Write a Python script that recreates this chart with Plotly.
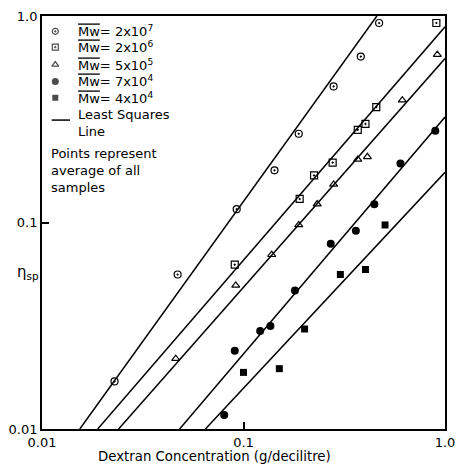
import plotly.graph_objects as go

# Weight-average molecular weights of the dextran fractions
mw_labels = ["2x10<sup>7</sup>", "2x10<sup>6</sup>", "5x10<sup>5</sup>",
             "7x10<sup>4</sup>", "4x10<sup>4</sup>"]

# Concentration (g/decilitre) and specific viscosity for each fraction
conc_2e7 = [0.0229, 0.0471, 0.0925, 0.1425, 0.188, 0.280, 0.382, 0.471]
eta_2e7 = [0.0170, 0.0560, 0.116, 0.179, 0.269, 0.456, 0.636, 0.925]

conc_2e6 = [0.0905, 0.190, 0.224, 0.277, 0.369, 0.403, 0.456, 0.906]
eta_2e6 = [0.0625, 0.130, 0.169, 0.195, 0.281, 0.300, 0.362, 0.925]

conc_5e5 = [0.0461, 0.0915, 0.138, 0.188, 0.232, 0.280, 0.369, 0.412, 0.614, 0.916]
eta_5e5 = [0.0219, 0.0496, 0.0698, 0.0973, 0.1228, 0.153, 0.202, 0.208, 0.391, 0.650]

conc_7e4 = [0.0802, 0.0905, 0.121, 0.136, 0.180, 0.271, 0.361, 0.446, 0.601, 0.895]
eta_7e4 = [0.0117, 0.0239, 0.0298, 0.0315, 0.0469, 0.0789, 0.0911, 0.1227, 0.193, 0.278]

conc_4e4 = [0.100, 0.1506, 0.201, 0.3025, 0.403, 0.504]
eta_4e4 = [0.0188, 0.0196, 0.0305, 0.056, 0.0592, 0.0973]

# Least-squares lines, given by their end points inside the plotting frame
fit_conc = [[0.0154, 0.459], [0.0189, 1.0], [0.0240, 1.0], [0.0482, 1.0], [0.0647, 1.0]]
fit_eta = [[0.01, 1.0], [0.01, 0.886], [0.01, 0.622], [0.01, 0.324], [0.01, 0.175]]

tick_vals = [0.01, 0.1, 1.0]
tick_text = ["0.01", "0.1", "1.0"]

note_lines = ["Points represent", "average of all", "samples"]

FONT = "DejaVu Sans"
series = [
    (conc_2e7, eta_2e7, "circle-open-dot", 7, 1.2),
    (conc_2e6, eta_2e6, "square-open-dot", 7, 1.2),
    (conc_5e5, eta_5e5, "triangle-up-open", 7, 1.2),
    (conc_7e4, eta_7e4, "circle", 8, 0),
    (conc_4e4, eta_4e4, "square", 7, 0),
]

fig = go.Figure()

for fx, fy in zip(fit_conc, fit_eta):
    fig.add_trace(go.Scatter(x=fx, y=fy, mode="lines",
                             line=dict(color="black", width=1.5),
                             showlegend=False, hoverinfo="skip"))

for (cx, ey, sym, size, lw), lab in zip(series, mw_labels):
    fig.add_trace(go.Scatter(
        x=cx, y=ey, mode="markers", showlegend=False,
        name="Mw = " + lab,
        marker=dict(symbol=sym, size=size, color="black",
                    line=dict(color="black", width=lw)),
    ))

# ---- key, laid out in the upper-left corner of the frame (paper fractions) ----
key_x_sym = 0.033
key_x_text = 0.084
key_rows = [0.963, 0.9245, 0.8825, 0.8417, 0.802]

fig.add_trace(go.Scatter(
    x=[key_x_sym] * len(series), y=key_rows, mode="markers",
    xaxis="x2", yaxis="y2", showlegend=False, hoverinfo="skip", cliponaxis=False,
    marker=dict(symbol=[s[2] for s in series], size=[s[3] - 1 for s in series],
                color="black", line=dict(color="black", width=[s[4] for s in series])),
))

for yk, lab in zip(key_rows, mw_labels):
    fig.add_annotation(
        text="<span style='text-decoration:overline'>Mw</span>= " + lab,
        xref="paper", yref="paper", x=key_x_text, y=yk,
        xanchor="left", yanchor="middle", showarrow=False,
        font=dict(family=FONT, size=13, color="black"))

fig.add_shape(type="line", xref="paper", yref="paper",
              x0=0.024, x1=0.0695, y0=0.748, y1=0.748,
              line=dict(color="black", width=1.5))
fig.add_annotation(text="Least Squares<br>Line", xref="paper", yref="paper",
                   x=key_x_text, y=0.741, xanchor="left", yanchor="middle",
                   align="left", showarrow=False,
                   font=dict(family=FONT, size=13, color="black"))

fig.add_annotation(text="<br>".join(note_lines), xref="paper", yref="paper",
                   x=0.0168, y=0.6247, xanchor="left", yanchor="middle",
                   align="left", showarrow=False,
                   font=dict(family=FONT, size=13, color="black"))

# axis titles
fig.add_annotation(text="η<sub>sp</sub>", xref="paper", yref="paper",
                   x=-0.066, y=0.378, xanchor="left", yanchor="middle",
                   showarrow=False, font=dict(family=FONT, size=15, color="black"))

fig.add_annotation(text="Dextran Concentration (g/decilitre)",
                   xref="paper", yref="paper", x=0.428, y=-0.066,
                   xanchor="center", yanchor="middle", showarrow=False,
                   font=dict(family=FONT, size=13.3, color="black"))

axis_style = dict(type="log", tickvals=tick_vals, ticktext=tick_text,
                  ticks="inside", ticklen=7, tickwidth=1.5, tickcolor="black",
                  showline=True, mirror=True, linecolor="black", linewidth=1.8,
                  showgrid=False, zeroline=False,
                  tickfont=dict(family=FONT, size=13, color="black"))

fig.update_layout(
    width=464, height=464,
    margin=dict(l=38, r=9, t=12, b=35),
    paper_bgcolor="white", plot_bgcolor="white",
    xaxis=dict(range=[-2, 0], **axis_style),
    yaxis=dict(range=[-2, 0], **axis_style),
    xaxis2=dict(range=[0, 1], overlaying="x", anchor="y2", visible=False),
    yaxis2=dict(range=[0, 1], overlaying="y", anchor="x2", visible=False),
    showlegend=False,
    font=dict(family=FONT, color="black"),
)

fig.write_html("out.html")
